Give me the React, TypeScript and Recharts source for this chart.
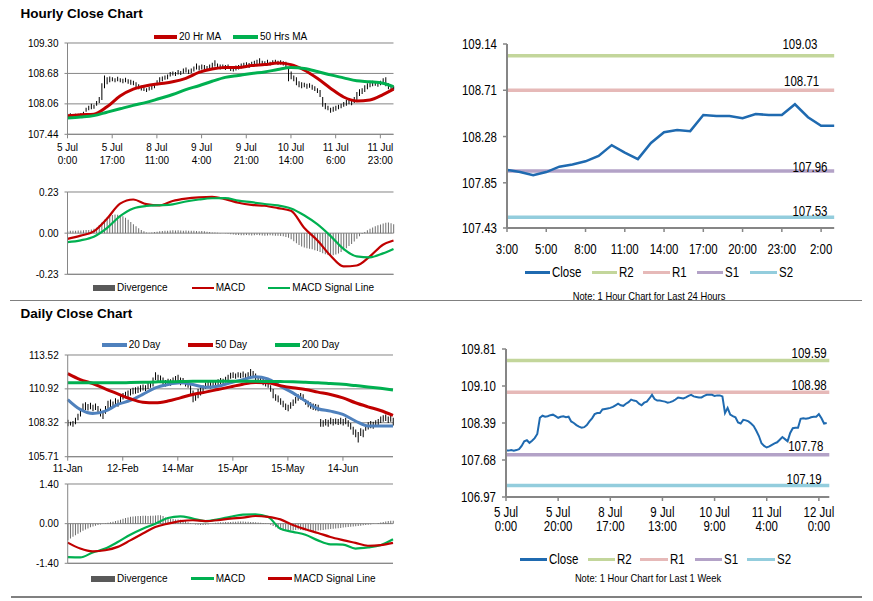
import React from 'react';
import { ComposedChart, Line, Bar, XAxis, YAxis, CartesianGrid, ReferenceLine } from 'recharts';

const SANS = '"Liberation Sans", Arial, sans-serif';
// no narrow face installed: Liberation Sans squeezed horizontally stands in for Arial Narrow
const NARROW_SCALE = 0.82;

const RED = '#c00000';
const GREEN = '#00b050';
const BLUE = '#4f81bd';
const GRID = '#868686';
const CLOSE = '#1f6ab0';
const LEVEL_COLORS = ['#c3d69b', '#e6b9b8', '#b3a2c7', '#93cddd'];

// ---- hourly close chart (index = trading hour) ----
const hourlyLow = [
  107.80, 107.81, 107.80, 107.81, 107.80, 107.82, 107.84, 107.90, 107.93, 107.95,
  107.96, 108.02, 108.08, 108.14, 108.38, 108.46, 108.50, 108.52, 108.50, 108.52,
  108.50, 108.48, 108.50, 108.47, 108.45, 108.44, 108.40, 108.36, 108.33, 108.32,
  108.30, 108.33, 108.35, 108.38, 108.44, 108.49, 108.52, 108.55, 108.56, 108.62,
  108.64, 108.63, 108.66, 108.65, 108.68, 108.70, 108.67, 108.69, 108.72, 108.76,
  108.74, 108.76, 108.75, 108.73, 108.76, 108.78, 108.82, 108.78, 108.76, 108.77,
  108.75, 108.77, 108.73, 108.72, 108.74, 108.76, 108.78, 108.80, 108.81, 108.79,
  108.82, 108.84, 108.86, 108.85, 108.84, 108.85, 108.86, 108.84, 108.86, 108.87,
  108.85, 108.86, 108.84, 108.80, 108.52, 108.56, 108.52, 108.44, 108.40, 108.38,
  108.40, 108.37, 108.39, 108.35, 108.32, 108.28, 108.20, 108.00, 107.95, 107.93,
  107.88, 107.90, 107.92, 107.95, 107.97, 108.00, 108.02, 108.05, 108.03, 108.08,
  108.14, 108.22, 108.26, 108.30, 108.36, 108.40, 108.42, 108.43, 108.41, 108.44,
  108.46, 108.42, 108.36, 108.33, 108.35,
];
const hourlyHigh = [
  107.86, 107.87, 107.85, 107.86, 107.86, 107.87, 107.90, 107.98, 108.02, 108.06,
  108.04, 108.12, 108.20, 108.48, 108.64, 108.60, 108.62, 108.60, 108.58, 108.61,
  108.58, 108.57, 108.59, 108.56, 108.55, 108.53, 108.50, 108.46, 108.43, 108.40,
  108.38, 108.41, 108.44, 108.48, 108.54, 108.60, 108.62, 108.64, 108.66, 108.71,
  108.72, 108.71, 108.75, 108.73, 108.78, 108.80, 108.76, 108.78, 108.82, 108.88,
  108.84, 108.86, 108.85, 108.83, 108.86, 108.90, 108.95, 108.88, 108.86, 108.86,
  108.85, 108.86, 108.83, 108.82, 108.84, 108.85, 108.88, 108.90, 108.91, 108.89,
  108.92, 108.94, 108.96, 108.99, 108.94, 108.93, 108.96, 108.92, 108.95, 108.96,
  108.94, 108.95, 108.93, 108.92, 108.80, 108.72, 108.64, 108.60, 108.52, 108.50,
  108.49, 108.47, 108.48, 108.45, 108.42, 108.38, 108.34, 108.20, 108.08, 108.02,
  107.98, 108.00, 108.02, 108.04, 108.06, 108.10, 108.14, 108.14, 108.12, 108.20,
  108.30, 108.36, 108.38, 108.44, 108.48, 108.52, 108.53, 108.52, 108.51, 108.53,
  108.58, 108.60, 108.48, 108.42, 108.42,
];
const hourlyMaIdx = [0, 5, 10, 15, 20, 25, 30, 35, 40, 45, 50, 55, 60, 65, 70, 75, 80, 85, 90, 95, 100, 105, 110, 115, 120, 124];
const hourlyMa20 = [107.82, 107.84, 107.85, 108.00, 108.22, 108.36, 108.43, 108.47, 108.51, 108.58, 108.70, 108.77, 108.80, 108.80, 108.84, 108.86, 108.89, 108.86, 108.75, 108.58, 108.38, 108.20, 108.12, 108.14, 108.25, 108.36];
const hourlyMa50 = [107.77, 107.79, 107.82, 107.89, 107.96, 108.03, 108.09, 108.17, 108.25, 108.35, 108.43, 108.52, 108.60, 108.64, 108.68, 108.71, 108.76, 108.80, 108.78, 108.72, 108.65, 108.59, 108.53, 108.51, 108.48, 108.41];
const hourlyMacd = [-0.032, -0.014, 0.010, 0.080, 0.165, 0.188, 0.162, 0.155, 0.180, 0.193, 0.200, 0.203, 0.190, 0.170, 0.158, 0.153, 0.140, 0.125, 0.030, -0.040, -0.125, -0.186, -0.181, -0.130, -0.065, -0.041];
const hourlySignal = [-0.050, -0.040, -0.020, 0.028, 0.095, 0.138, 0.152, 0.156, 0.161, 0.177, 0.188, 0.195, 0.196, 0.182, 0.173, 0.163, 0.155, 0.138, 0.100, 0.050, -0.015, -0.088, -0.130, -0.135, -0.113, -0.088];
const hourlyDiv = [
  0.012, 0.013, 0.014, 0.014, 0.015, 0.015, 0.016, 0.017, 0.018, 0.020, 0.024,
  0.030, 0.045, 0.060, 0.075, 0.088, 0.097, 0.102, 0.104, 0.103, 0.100,
  0.094, 0.086, 0.075, 0.062, 0.050, 0.038, 0.028, 0.018, 0.010, 0.004, 0.002,
  0.004, 0.006, 0.008, 0.010, 0.012, 0.013, 0.014, 0.015, 0.016, 0.015, 0.016, 0.015,
  0.014, 0.015, 0.014, 0.013, 0.014, 0.012, 0.011, 0.012, 0.010, 0.008, 0.006,
  0.004, 0.003, 0.002, 0.001, 0.000, -0.002, -0.004, -0.006,
  -0.008, -0.010, -0.011, -0.012, -0.012, -0.011, -0.012, -0.013, -0.012, -0.011, -0.012,
  -0.013, -0.014, -0.013, -0.012, -0.013, -0.014, -0.015, -0.016, -0.018, -0.022, -0.026,
  -0.034, -0.045, -0.056, -0.066, -0.074, -0.080, -0.084, -0.087, -0.090, -0.095,
  -0.100, -0.106, -0.112, -0.118, -0.122, -0.125, -0.124, -0.120, -0.114, -0.105,
  -0.095, -0.084, -0.072, -0.060, -0.046, -0.032, -0.018, -0.005, 0.006, 0.016,
  0.025, 0.032, 0.038, 0.044, 0.049, 0.054, 0.058, 0.060, 0.056, 0.050,
];
const hourlyTickIdx = [0, 17, 34, 51, 68, 85, 102, 119];
const hourlyTickDay = ['5 Jul', '5 Jul', '8 Jul', '9 Jul', '9 Jul', '10 Jul', '11 Jul', '11 Jul'];
const hourlyTickTime = ['0:00', '17:00', '11:00', '4:00', '21:00', '14:00', '6:00', '23:00'];
const hourlyPriceTicks = [107.44, 108.06, 108.68, 109.30];
const hourlyMacdTicks = [-0.23, 0, 0.23];

// ---- daily close chart (index = trading day) ----
const dailyLow = [
  108.05, 108.10, 108.00, 108.20, 108.50, 108.80, 109.20, 109.30, 109.25, 109.35,
  109.20, 109.30, 109.10, 108.80, 108.60, 109.00, 109.40, 109.50, 109.45, 109.60,
  109.55, 109.80, 110.10, 110.20, 110.30, 110.40, 110.50, 110.55, 110.60, 110.70,
  110.80, 110.75, 110.90, 111.00, 111.10, 111.60, 111.50, 111.40, 111.20, 111.10,
  111.20, 111.15, 111.30, 111.35, 111.40, 111.20, 111.30, 111.10, 111.00, 110.40,
  109.90, 110.00, 110.20, 110.40, 110.60, 110.90, 111.00, 110.95, 111.05, 111.10,
  111.20, 111.30, 111.20, 111.40, 111.50, 111.70, 111.75, 111.70, 111.80, 111.75,
  111.80, 111.70, 111.75, 111.90, 111.80, 111.60, 111.40, 111.30, 111.20, 111.10,
  111.00, 110.70, 110.20, 110.00, 109.90, 109.70, 109.50, 109.30, 109.20, 109.40,
  109.60, 109.80, 110.00, 110.10, 110.00, 109.70, 109.50, 109.40, 109.30, 109.25,
  109.20, 108.00, 108.00, 108.10, 108.00, 108.20, 108.10, 108.20, 108.15, 108.20,
  108.10, 108.20, 108.00, 107.80, 107.40, 107.20, 106.80, 107.30, 107.20, 107.70,
  107.80, 107.90, 107.85, 108.00, 108.10, 108.30, 108.40, 108.45, 108.30, 108.40,
  108.10,
];
const dailyHigh = [
  108.55, 108.40, 108.45, 108.70, 109.00, 109.40, 109.80, 109.90, 109.75, 109.85,
  109.70, 109.80, 109.60, 109.40, 109.20, 109.60, 110.00, 110.10, 109.95, 110.20,
  110.10, 110.40, 110.60, 110.70, 110.80, 110.90, 111.00, 111.05, 111.10, 111.20,
  111.25, 111.20, 111.40, 111.50, 111.80, 112.20, 112.00, 111.95, 111.80, 111.60,
  111.70, 111.65, 111.80, 111.90, 112.00, 111.80, 111.75, 111.60, 111.55, 111.20,
  110.80, 110.60, 110.90, 111.10, 111.20, 111.40, 111.50, 111.45, 111.55, 111.50,
  111.65, 111.75, 111.70, 111.85, 112.00, 112.15, 112.20, 112.10, 112.20, 112.15,
  112.25, 112.10, 112.20, 112.45, 112.30, 112.10, 111.90, 111.80, 111.70, 111.60,
  111.50, 111.20, 110.90, 110.50, 110.40, 110.20, 110.00, 109.80, 109.70, 109.90,
  110.10, 110.30, 110.50, 110.60, 110.50, 110.10, 110.00, 109.90, 109.80, 109.75,
  109.70, 108.60, 108.50, 108.60, 108.55, 108.70, 108.60, 108.65, 108.60, 108.70,
  108.60, 108.70, 108.50, 108.30, 108.00, 107.80, 107.60, 107.90, 107.80, 108.20,
  108.35, 108.45, 108.40, 108.50, 108.60, 108.80, 108.90, 108.95, 108.80, 108.90,
  108.70,
];
const dailyMaIdx = [0, 5, 10, 15, 20, 25, 30, 35, 40, 45, 50, 55, 60, 65, 70, 75, 80, 85, 90, 95, 100, 105, 110, 115, 120, 125, 130];
const daily20 = [110.10, 109.34, 109.03, 109.21, 109.72, 110.03, 110.49, 111.00, 111.25, 111.38, 111.25, 111.05, 111.12, 111.38, 111.63, 111.84, 111.68, 111.12, 110.61, 109.98, 109.39, 109.21, 108.96, 108.45, 108.07, 108.07, 108.07];
const daily50 = [112.09, 111.63, 111.33, 110.92, 110.54, 110.16, 109.90, 109.85, 109.98, 110.23, 110.49, 110.67, 110.87, 111.07, 111.28, 111.40, 111.38, 111.17, 111.00, 110.87, 110.67, 110.49, 110.23, 109.85, 109.54, 109.26, 108.88];
const daily200 = [111.38, 111.38, 111.38, 111.38, 111.38, 111.40, 111.42, 111.45, 111.47, 111.48, 111.50, 111.50, 111.50, 111.50, 111.50, 111.50, 111.49, 111.48, 111.46, 111.43, 111.39, 111.33, 111.27, 111.17, 111.07, 110.96, 110.84];
const dailyMacd = [-1.18, -1.19, -1.02, -0.88, -0.65, -0.39, -0.18, 0.00, 0.20, 0.26, 0.18, 0.09, 0.15, 0.24, 0.32, 0.33, 0.24, -0.18, -0.29, -0.39, -0.59, -0.73, -0.74, -0.88, -0.84, -0.76, -0.55];
const dailySignal = [-0.67, -0.88, -0.98, -0.94, -0.82, -0.59, -0.35, -0.12, 0.00, 0.09, 0.12, 0.09, 0.12, 0.18, 0.21, 0.27, 0.24, 0.15, -0.05, -0.20, -0.33, -0.47, -0.58, -0.68, -0.78, -0.76, -0.68];
const dailyDiv = [
  -0.59, -0.52, -0.46, -0.41, -0.36, -0.30, -0.25, -0.21, -0.17, -0.13,
  -0.10, -0.07, -0.05, -0.03, -0.01, 0.01, 0.03, 0.05, 0.07, 0.09,
  0.11, 0.14, 0.17, 0.20, 0.22, 0.24, 0.25, 0.26, 0.27, 0.27,
  0.28, 0.28, 0.27, 0.28, 0.28, 0.29, 0.30, 0.30, 0.27, 0.22,
  0.19, 0.17, 0.16, 0.15, 0.15, 0.14, 0.12, 0.09, 0.05, 0.02,
  -0.01, -0.03, -0.04, -0.05, -0.05, -0.04, -0.03, -0.01, 0.01, 0.03,
  0.04, 0.05, 0.05, 0.06, 0.06, 0.06, 0.07, 0.07, 0.08, 0.08,
  0.08, 0.07, 0.07, 0.06, 0.06, 0.05, 0.04, 0.03, 0.02, 0.01,
  -0.01, -0.04, -0.08, -0.13, -0.18, -0.22, -0.24, -0.25, -0.25, -0.24,
  -0.23, -0.22, -0.21, -0.22, -0.23, -0.24, -0.25, -0.26, -0.26, -0.25,
  -0.24, -0.23, -0.22, -0.21, -0.20, -0.19, -0.18, -0.17, -0.16, -0.15,
  -0.14, -0.13, -0.12, -0.11, -0.10, -0.09, -0.08, -0.07, -0.06, -0.05,
  -0.04, -0.03, -0.01, 0.00, 0.02, 0.04, 0.06, 0.08, 0.09, 0.10,
  0.10,
];
const dailyTickIdx = [0, 22, 44, 66, 88, 110];
const dailyTickText = ['11-Jan', '12-Feb', '14-Mar', '15-Apr', '15-May', '14-Jun'];
const dailyPriceTicks = [105.71, 108.32, 110.92, 113.52];
const dailyMacdTicks = [-1.4, 0, 1.4];

// ---- last 24 hours with levels ----
const last24Close = [107.97, 107.95, 107.92, 107.95, 108.00, 108.02, 108.05, 108.10, 108.20, 108.13, 108.07, 108.22, 108.32, 108.34, 108.33, 108.48, 108.47, 108.47, 108.45, 108.49, 108.48, 108.48, 108.58, 108.46, 108.38, 108.38];
const last24Levels = [109.03, 108.71, 107.96, 107.53];
const last24TickIdx = [0, 3, 6, 9, 12, 15, 18, 21, 24];
const last24TickText = ['3:00', '5:00', '8:00', '11:00', '14:00', '17:00', '20:00', '23:00', '2:00'];
const last24Ticks = [107.43, 107.85, 108.28, 108.71, 109.14];

// ---- last week with levels ----
const weekClose = [
  107.86, 107.86, 107.87, 107.86, 107.87, 107.89, 107.95, 108.04, 108.06, 108.01,
  108.05, 108.10, 108.18, 108.49, 108.53, 108.51, 108.52, 108.54, 108.55, 108.52,
  108.49, 108.51, 108.52, 108.50, 108.51, 108.42, 108.39, 108.35, 108.32, 108.30,
  108.31, 108.35, 108.42, 108.48, 108.56, 108.58, 108.58, 108.65, 108.66, 108.67,
  108.68, 108.70, 108.73, 108.76, 108.73, 108.72, 108.76, 108.79, 108.84, 108.82,
  108.81, 108.76, 108.73, 108.78, 108.80, 108.86, 108.93, 108.85, 108.82, 108.82,
  108.81, 108.80, 108.78, 108.79, 108.81, 108.84, 108.88, 108.87, 108.86, 108.88,
  108.91, 108.93, 108.90, 108.89, 108.88, 108.88, 108.91, 108.93, 108.93, 108.93,
  108.91, 108.92, 108.92, 108.90, 108.58, 108.68, 108.55, 108.52, 108.50, 108.40,
  108.38, 108.45, 108.44, 108.42, 108.38, 108.33, 108.24, 108.14, 108.00, 107.95,
  107.92, 107.94, 107.97, 108.00, 108.02, 108.07, 108.12, 108.08, 108.04, 108.20,
  108.29, 108.30, 108.30, 108.47, 108.48, 108.47, 108.48, 108.50, 108.51, 108.51,
  108.56, 108.48, 108.38, 108.39,
];
const weekLevels = [109.59, 108.98, 107.78, 107.19];
const weekTickIdx = [0, 20, 40, 60, 80, 100, 120];
const weekTickDay = ['5 Jul', '5 Jul', '8 Jul', '9 Jul', '10 Jul', '11 Jul', '12 Jul'];
const weekTickTime = ['0:00', '20:00', '17:00', '13:00', '9:00', '4:00', '0:00'];
const weekTicks = [106.97, 107.68, 108.39, 109.10, 109.81];

const levelNames = ['R2', 'R1', 'S1', 'S2'];

// table rows
const hourlyRows: any[] = hourlyLow.map((lo, i) => ({ x: i, lo, hi: hourlyHigh[i], div: hourlyDiv[i] }));
hourlyMaIdx.forEach((ix, j) => {
  Object.assign(hourlyRows[ix], { ma20: hourlyMa20[j], ma50: hourlyMa50[j], macd: hourlyMacd[j], signal: hourlySignal[j] });
});
const dailyRows: any[] = dailyLow.map((lo, i) => ({ x: i, lo, hi: dailyHigh[i], div: dailyDiv[i] }));
dailyMaIdx.forEach((ix, j) => {
  Object.assign(dailyRows[ix], { d20: daily20[j], d50: daily50[j], d200: daily200[j], macd: dailyMacd[j], signal: dailySignal[j] });
});
const last24Rows = last24Close.map((close, i) => ({ x: i, close }));
const weekRows = weekClose.map((close, i) => ({ x: i, close }));

type Box = { x0: number; y0: number; x1: number; y1: number; yw: number; xh: number };
function place(b: Box) {
  const pad = 10;
  return {
    style: { position: 'absolute' as const, left: b.x0 - b.yw, top: b.y0 - pad },
    width: b.x1 - b.x0 + b.yw + pad,
    height: b.y1 - b.y0 + pad + b.xh + 1,
    margin: { top: pad, right: pad, bottom: 1, left: 0 },
  };
}

// x tick labels, one or two lines; sx < 1 squeezes the glyphs
const tickFactory = (idx: number[], rows: string[][], first: number, gap: number, size: number, sx: number) =>
  (props: any) => {
    const { x, y, payload } = props;
    const k = idx.indexOf(payload.value);
    if (k < 0) return <g />;
    return (
      <text transform={`translate(${x},${y}) scale(${sx},1)`} textAnchor="middle" fontFamily={SANS} fontSize={size} fill="#000">
        {rows.map((r, i) => (
          <tspan key={i} x={0} dy={i === 0 ? first : gap}>{r[k]}</tspan>
        ))}
      </text>
    );
  };

const NarrowYTick = (props: any) => {
  const { x, y, payload } = props;
  return (
    <text transform={`translate(${x},${y}) scale(${NARROW_SCALE},1)`} textAnchor="end" dy="0.355em" fontFamily={SANS} fontSize={14} fill="#000">
      {Number(payload.value).toFixed(2)}
    </text>
  );
};

const levelLabel = (text: string, right: number, above: number) => (props: any) => {
  const vb = props.viewBox || {};
  return (
    <text
      transform={`translate(${vb.x + vb.width - right},${vb.y - above}) scale(${NARROW_SCALE},1)`}
      textAnchor="end" fontFamily={SANS} fontSize={14} fill="#000"
    >
      {text}
    </text>
  );
};

type Key = { x: number; w: number; h: number; color: string; label: string };
function KeyRow({ keys, y, size, sx = 1 }: { keys: Key[]; y: number; size: number; sx?: number }) {
  return (
    <>
      {keys.map((k) => (
        <React.Fragment key={k.label}>
          <div style={{ position: 'absolute', left: k.x, top: y - k.h / 2, width: k.w, height: k.h, background: k.color }} />
          <div
            style={{
              position: 'absolute', left: k.x + k.w + 2, top: y - size * 0.6, height: size * 1.2,
              fontFamily: SANS, fontSize: size, lineHeight: `${size * 1.2}px`, whiteSpace: 'nowrap', color: '#000',
              transform: `scaleX(${sx})`, transformOrigin: 'left center',
            }}
          >
            {k.label}
          </div>
        </React.Fragment>
      ))}
    </>
  );
}

const leftTick = { fontSize: 10, fill: '#000', fontFamily: SANS };
const fmt2 = (v: number) => v.toFixed(2);

const boxHourly: Box = { x0: 67.5, y0: 42.7, x1: 393.5, y1: 134, yw: 67.5, xh: 32 };
const boxHourlyMacd: Box = { x0: 67.5, y0: 191.7, x1: 393.5, y1: 274, yw: 67.5, xh: 10 };
const boxDaily: Box = { x0: 67.7, y0: 355, x1: 393, y1: 456.7, yw: 67.7, xh: 20 };
const boxDailyMacd: Box = { x0: 67.7, y0: 483.7, x1: 393, y1: 563, yw: 67.7, xh: 10 };
const box24: Box = { x0: 507.3, y0: 44.3, x1: 834.5, y1: 228.3, yw: 80, xh: 32 };
const boxWeek: Box = { x0: 506, y0: 349.3, x1: 829.3, y1: 497.3, yw: 80, xh: 40 };

const label24Pos = [[16.7, 6.4], [15, 4], [6.7, -1], [6.7, 1]];
const labelWeekPos = [[2.6, 2], [2.6, 2], [6, 4], [7.6, 1.3]];

function PriceChart({ box, rows, domain, ticks, xDomain, xTick, lines }: any) {
  const p = place(box);
  return (
    <div style={p.style}>
      <ComposedChart width={p.width} height={p.height} data={rows} margin={p.margin}>
        <CartesianGrid vertical={false} stroke={GRID} />
        <XAxis
          type="number" dataKey="x" domain={xDomain} ticks={xTick.ticks} interval={0}
          height={box.xh} tick={xTick.render} tickSize={4} tickMargin={2}
          axisLine={{ stroke: GRID }} tickLine={{ stroke: GRID }}
        />
        <YAxis
          domain={domain} ticks={ticks} interval={0} allowDataOverflow width={box.yw}
          tick={leftTick} tickFormatter={fmt2} tickSize={3} tickMargin={6}
          axisLine={{ stroke: GRID }} tickLine={{ stroke: GRID }}
        />
        <Bar dataKey={(r: any) => [r.lo, r.hi]} barSize={1} fill="#000" isAnimationActive={false} />
        {lines.map((l: any) => (
          <Line key={l.key} dataKey={l.key} type="monotone" stroke={l.color} strokeWidth={3} dot={false} connectNulls isAnimationActive={false} />
        ))}
      </ComposedChart>
    </div>
  );
}

function MacdChart({ box, rows, domain, ticks, xDomain, macdColor, signalColor }: any) {
  const p = place(box);
  return (
    <div style={p.style}>
      <ComposedChart width={p.width} height={p.height} data={rows} margin={p.margin}>
        <CartesianGrid vertical={false} stroke={GRID} />
        <XAxis type="number" dataKey="x" domain={xDomain} height={box.xh} tick={false} tickLine={false} axisLine={{ stroke: GRID }} />
        <YAxis
          domain={domain} ticks={ticks} interval={0} allowDataOverflow width={box.yw}
          tick={leftTick} tickFormatter={fmt2} tickSize={3} tickMargin={6}
          axisLine={{ stroke: GRID }} tickLine={{ stroke: GRID }}
        />
        <Bar dataKey="div" barSize={1} fill="#6e6e6e" isAnimationActive={false} />
        <Line dataKey="macd" type="monotone" stroke={macdColor} strokeWidth={2.2} dot={false} connectNulls isAnimationActive={false} />
        <Line dataKey="signal" type="monotone" stroke={signalColor} strokeWidth={2.2} dot={false} connectNulls isAnimationActive={false} />
      </ComposedChart>
    </div>
  );
}

function LevelChart({ box, rows, domain, ticks, xDomain, xTick, levels, labelPos, width }: any) {
  const p = place(box);
  return (
    <div style={p.style}>
      <ComposedChart width={p.width} height={p.height} data={rows} margin={p.margin}>
        <XAxis
          type="number" dataKey="x" domain={xDomain} ticks={xTick.ticks} interval={0}
          height={box.xh} tick={xTick.render} tickSize={4} tickMargin={2}
          axisLine={{ stroke: GRID, strokeWidth: 2 }} tickLine={{ stroke: GRID, strokeWidth: 1.5 }}
        />
        <YAxis
          domain={domain} ticks={ticks} interval={0} allowDataOverflow width={box.yw}
          tick={<NarrowYTick />} tickSize={4} tickMargin={6}
          axisLine={{ stroke: GRID, strokeWidth: 2 }} tickLine={{ stroke: GRID, strokeWidth: 1.5 }}
        />
        {levels.map((v: number, i: number) => (
          <ReferenceLine
            key={levelNames[i]} y={v} stroke={LEVEL_COLORS[i]} strokeWidth={3.5}
            label={levelLabel(v.toFixed(2), labelPos[i][0], labelPos[i][1])}
          />
        ))}
        <Line dataKey="close" type="linear" stroke={CLOSE} strokeWidth={width} dot={false} isAnimationActive={false} />
      </ComposedChart>
    </div>
  );
}

const levelKeys = (pos: number[][]): Key[] => [
  { x: pos[0][0], w: pos[0][1], h: 3.5, color: CLOSE, label: 'Close' },
  ...levelNames.map((n, i) => ({ x: pos[i + 1][0], w: pos[i + 1][1], h: 3.5, color: LEVEL_COLORS[i], label: n })),
];

const noteStyle = {
  position: 'absolute' as const, width: 200, textAlign: 'center' as const, fontFamily: SANS, fontSize: 11.4,
  lineHeight: '13px', whiteSpace: 'nowrap' as const, transform: `scaleX(${NARROW_SCALE})`, transformOrigin: 'center',
};

export default function App() {
  const hourlyTicks = { ticks: hourlyTickIdx, render: tickFactory(hourlyTickIdx, [hourlyTickDay, hourlyTickTime], 10.5, 13.5, 10, 1) };
  const dailyTicks = { ticks: dailyTickIdx, render: tickFactory(dailyTickIdx, [dailyTickText], 9.8, 0, 10, 1) };
  const ticks24 = { ticks: last24TickIdx, render: tickFactory(last24TickIdx, [last24TickText], 19.7, 0, 14, NARROW_SCALE) };
  const ticksWeek = { ticks: weekTickIdx, render: tickFactory(weekTickIdx, [weekTickDay, weekTickTime], 13.7, 14.7, 14, NARROW_SCALE) };

  const title = { position: 'absolute' as const, left: 20.5, fontFamily: SANS, fontWeight: 700, fontSize: 13.5, lineHeight: '16px', color: '#000' };

  return (
    <div style={{ position: 'absolute', left: 0, top: 0, width: 873, height: 601, background: '#fff', overflow: 'hidden' }}>
      <div style={{ ...title, top: 6 }}>Hourly Close Chart</div>
      <div style={{ ...title, top: 305.5 }}>Daily Close Chart</div>
      <div style={{ position: 'absolute', left: 10, top: 299.5, width: 852, height: 1.5, background: '#808080' }} />
      <div style={{ position: 'absolute', left: 11, top: 596, width: 851, height: 1.5, background: '#808080' }} />

      <PriceChart
        box={boxHourly} rows={hourlyRows} domain={[107.44, 109.3]} ticks={hourlyPriceTicks} xDomain={[0, 124]} xTick={hourlyTicks}
        lines={[{ key: 'ma20', color: RED }, { key: 'ma50', color: GREEN }]}
      />
      <KeyRow y={36.5} size={10} keys={[
        { x: 154, w: 23, h: 4, color: RED, label: '20 Hr MA' },
        { x: 233, w: 25, h: 4, color: GREEN, label: '50 Hrs MA' },
      ]} />

      <MacdChart box={boxHourlyMacd} rows={hourlyRows} domain={[-0.23, 0.23]} ticks={hourlyMacdTicks} xDomain={[0, 124]} macdColor={RED} signalColor={GREEN} />
      <KeyRow y={288} size={10} keys={[
        { x: 92.7, w: 22.3, h: 6, color: '#595959', label: 'Divergence' },
        { x: 191.7, w: 22, h: 2.5, color: RED, label: 'MACD' },
        { x: 268.3, w: 22, h: 2.5, color: GREEN, label: 'MACD Signal Line' },
      ]} />

      <PriceChart
        box={boxDaily} rows={dailyRows} domain={[105.71, 113.52]} ticks={dailyPriceTicks} xDomain={[0, 130]} xTick={dailyTicks}
        lines={[{ key: 'd20', color: BLUE }, { key: 'd50', color: RED }, { key: 'd200', color: GREEN }]}
      />
      <KeyRow y={344.5} size={10} keys={[
        { x: 101.7, w: 25, h: 4, color: BLUE, label: '20 Day' },
        { x: 188.3, w: 25, h: 4, color: RED, label: '50 Day' },
        { x: 275, w: 25, h: 4, color: GREEN, label: '200 Day' },
      ]} />

      <MacdChart box={boxDailyMacd} rows={dailyRows} domain={[-1.4, 1.4]} ticks={dailyMacdTicks} xDomain={[0, 130]} macdColor={GREEN} signalColor={RED} />
      <KeyRow y={578.5} size={10} keys={[
        { x: 90.7, w: 24.3, h: 6, color: '#595959', label: 'Divergence' },
        { x: 190.7, w: 23, h: 3, color: GREEN, label: 'MACD' },
        { x: 268.3, w: 23.5, h: 3, color: RED, label: 'MACD Signal Line' },
      ]} />

      <LevelChart
        box={box24} rows={last24Rows} domain={[107.43, 109.14]} ticks={last24Ticks} xDomain={[0, 25]} xTick={ticks24}
        levels={last24Levels} labelPos={label24Pos} width={2.5}
      />
      <KeyRow y={272.3} size={14} sx={NARROW_SCALE} keys={levelKeys([[525, 25], [591.7, 25], [643.3, 26.7], [696.7, 26.7], [750, 26.7]])} />
      <div style={{ ...noteStyle, left: 549, top: 289.5 }}>Note: 1 Hour Chart for Last 24 Hours</div>

      <LevelChart
        box={boxWeek} rows={weekRows} domain={[106.97, 109.81]} ticks={weekTicks} xDomain={[0, 124]} xTick={ticksWeek}
        levels={weekLevels} labelPos={labelWeekPos} width={2}
      />
      <KeyRow y={559.3} size={14} sx={NARROW_SCALE} keys={levelKeys([[520, 26.7], [588.3, 26.7], [640, 28.3], [695, 26.7], [746.7, 28.3]])} />
      <div style={{ ...noteStyle, left: 548, top: 571.8 }}>Note: 1 Hour Chart for Last 1 Week</div>
    </div>
  );
}
